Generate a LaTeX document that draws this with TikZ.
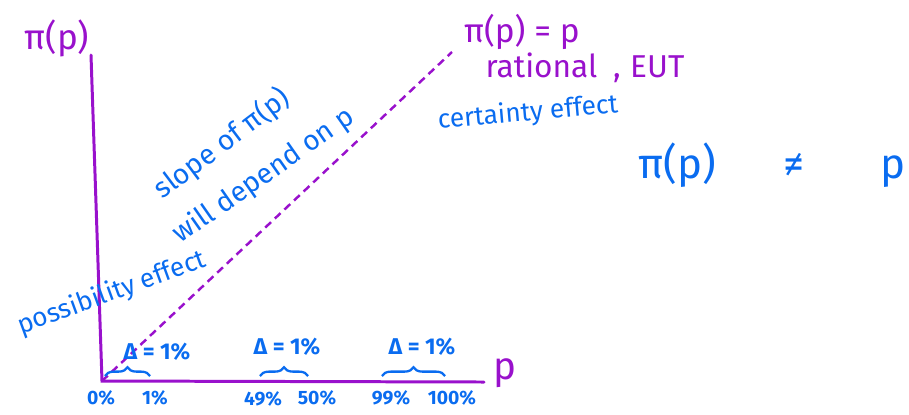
\documentclass[tikz,border=0pt]{standalone}
\usepackage{fontspec}
\setmainfont{Fira Sans}
\usepackage{tikz}
\usetikzlibrary{calc,arrows.meta,positioning,decorations.pathreplacing}
\definecolor{penPurple}{RGB}{153,17,204}
\definecolor{penBlue}{RGB}{10,108,240}

\begin{document}
\begin{tikzpicture}[x=0.02cm,y=-0.02cm,
    axisline/.style={penPurple, line width=1.7pt, line cap=round},
    guide/.style={penPurple, line width=1.4pt, dash pattern=on 4.5pt off 3pt},
    purpletxt/.style={text=penPurple, inner sep=0pt},
    bluetxt/.style={text=penBlue, inner sep=0pt},
    pcttxt/.style={text=penBlue, inner sep=0pt, font=\fontsize{11}{13}\selectfont\bfseries},
    deltatxt/.style={text=penBlue, inner sep=0pt, font=\fontsize{13}{15}\selectfont\bfseries},
    bracepen/.style={penBlue, line width=1.3pt, decorate,
        decoration={brace, amplitude=5pt, raise=0pt}}]
    \useasboundingbox (0,0) rectangle (909,414);

    \coordinate (O) at (102,381);
    \coordinate (ytop) at (91,55);
    \coordinate (xend) at (484,382);
    \coordinate (diagend) at (452,52);
    \draw[axisline] (ytop) -- (O) -- (xend);
    \draw[guide] (O) -- (diagend);

    \node[purpletxt, font=\fontsize{20}{22}\selectfont] (ylab) at (57,38) {π(p)};
    \node[purpletxt, font=\fontsize{22}{24}\selectfont] (xlab) at (505,373) {p};
    \node[purpletxt, font=\fontsize{19}{21}\selectfont] (diaglab) at (522,32) {π(p) = p};
    \node[purpletxt, font=\fontsize{18}{20}\selectfont] (ratlab) at (585,68) {rational\hspace{0.5em},\hspace{0.3em}EUT};

    \node[bluetxt, font=\fontsize{15}{17}\selectfont, rotate=5] (certain) at (528,113) {certainty effect};
    \node[bluetxt, font=\fontsize{16}{18}\selectfont, rotate=37] (slope) at (222,144) {slope of π(p)};
    \node[bluetxt, font=\fontsize{16}{18}\selectfont, rotate=35] (depend) at (264,176) {will depend on p};
    \node[bluetxt, font=\fontsize{15}{17}\selectfont, rotate=20] (possib) at (112,293) {possibility effect};
    \node[bluetxt, font=\fontsize{24}{26}\selectfont] (neq) at (772,165) {π(p)\hspace{1.6em}≠\hspace{1.8em}p};

    \coordinate (b1a) at (105,376);
    \coordinate (b1b) at (150,376);
    \coordinate (b2a) at (260,376);
    \coordinate (b2b) at (308,376);
    \coordinate (b3a) at (382,376);
    \coordinate (b3b) at (445,376);
    \draw[bracepen] (b1a) -- (b1b);
    \draw[bracepen] (b2a) -- (b2b);
    \draw[bracepen] (b3a) -- (b3b);

    \node[deltatxt] (d1) at (157,352) {Δ = 1\%};
    \node[deltatxt] (d2) at (287,347) {Δ = 1\%};
    \node[deltatxt] (d3) at (422,347) {Δ = 1\%};

    \node[pcttxt] (p0) at (101,398) {0\%};
    \node[pcttxt] (p1) at (155,398) {1\%};
    \node[pcttxt] (p49) at (263,399) {49\%};
    \node[pcttxt] (p50) at (317,398) {50\%};
    \node[pcttxt] (p99) at (391,398) {99\%};
    \node[pcttxt] (p100) at (452,398) {100\%};
\end{tikzpicture}
\end{document}
